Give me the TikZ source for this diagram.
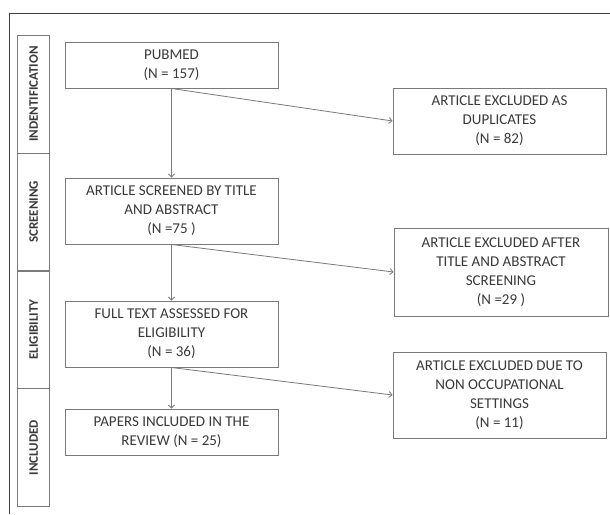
\documentclass[tikz,border=0pt]{standalone}
\usepackage{fontspec}
\setmainfont{Carlito}
\usetikzlibrary{arrows.meta}
\definecolor{txt}{HTML}{3A3A3A}
\definecolor{boxc}{HTML}{7A7A7A}
\definecolor{framec}{HTML}{404040}
\tikzset{
  flowbox/.style={draw=boxc, line width=1pt, rectangle, align=center, text=txt,
    font=\fontsize{15}{19}\selectfont, inner sep=2pt, minimum width=213pt},
  sidebox/.style={draw=boxc, line width=1pt, rectangle, rotate=90, text=txt,
    font=\fontsize{13}{15}\selectfont\bfseries, minimum width=118pt, minimum height=32.5pt, inner sep=0pt},
  conn/.style={draw=boxc, line width=0.8pt, -{Straight Barb[length=3pt,width=6pt]}},
}
\begin{document}
\begin{tikzpicture}[x=1pt,y=-1pt]
\useasboundingbox (0,0) rectangle (610,514);
\fill[white] (0,0) rectangle (610,514);
\draw[framec, line width=1.2pt] (9.5,514) -- (9.5,13.5) -- (610,13.5);

% side column
\node[sidebox] (s1) at (33.7,94) {INDENTIFICATION};
\node[sidebox] (s2) at (33.7,212) {SCREENING};
\node[sidebox] (s3) at (33.7,329.5) {ELIGIBILITY};
\node[sidebox] (s4) at (33.7,447.5) {INCLUDED};

% main boxes
\node[flowbox, minimum height=46pt] (pub) at (171.5,65) {PUBMED\\(N = 157)};
\node[flowbox, minimum height=66pt] (scr) at (171.5,211) {ARTICLE SCREENED BY TITLE\\AND ABSTRACT\\(N =75 )};
\node[flowbox, minimum height=66pt] (full) at (171.5,334) {FULL TEXT ASSESSED FOR\\ELIGIBILITY\\(N = 36)};
\node[flowbox, minimum height=46pt] (inc) at (171.5,432) {PAPERS INCLUDED IN THE\\REVIEW (N = 25)};

\node[flowbox, minimum height=66pt] (dup) at (499.5,121) {ARTICLE EXCLUDED AS\\DUPLICATES\\(N = 82)};
\node[flowbox, minimum height=88pt, minimum width=214pt] (ex1) at (501,272) {ARTICLE EXCLUDED AFTER\\TITLE AND ABSTRACT\\SCREENING\\(N =29 )};
\node[flowbox, minimum height=86pt] (ex2) at (499.5,395) {ARTICLE EXCLUDED DUE TO\\NON OCCUPATIONAL\\SETTINGS\\(N = 11)};

% connectors
\draw[conn] (pub.south) -- (scr.north);
\draw[conn] (scr.south) -- (full.north);
\draw[conn] (full.south) -- (inc.north);
\draw[conn] (pub.south) -- (dup.west);
\draw[conn] (scr.south) -- (ex1.west);
\draw[conn] (full.south) -- (ex2.west);
\end{tikzpicture}
\end{document}
